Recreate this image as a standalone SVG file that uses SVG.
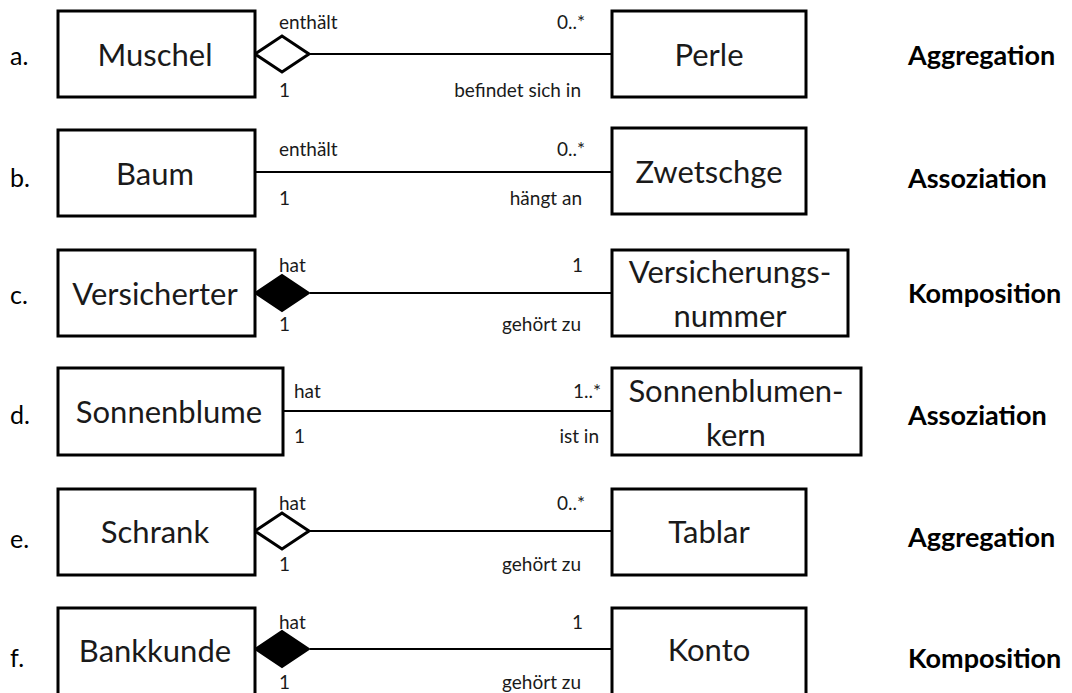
<svg xmlns="http://www.w3.org/2000/svg" width="1072" height="693" viewBox="0 0 1072 693">
<style>
.box{fill:#fff;stroke:#000;stroke-width:3}
.line{stroke:#000;stroke-width:2;fill:none}
.dia{stroke:#000;stroke-width:3;fill:#fff;stroke-linejoin:miter}
.diaf{stroke:#000;stroke-width:2;fill:#000}
.nt{font-family:Lato,"Liberation Sans",sans-serif;font-size:31px;fill:#1a1a1a;text-anchor:middle;dominant-baseline:central}
.sm{font-family:Lato,"Liberation Sans",sans-serif;font-size:19px;fill:#1a1a1a;dominant-baseline:central}
.end{text-anchor:end}
.kind{font-family:Lato,"Liberation Sans",sans-serif;font-size:27px;font-weight:bold;fill:#000;dominant-baseline:central}
.let{font-family:Lato,"Liberation Sans",sans-serif;font-size:25px;fill:#000;dominant-baseline:central}
</style>
<rect width="1072" height="693" fill="#fff"/>
<g id="connectors">
<line class="line" x1="310" y1="54" x2="612" y2="54"/>
<polygon class="dia" points="255,54 282,36 309,54 282,72"/>
<line class="line" x1="255" y1="172" x2="612" y2="172"/>
<line class="line" x1="310" y1="293" x2="612" y2="293"/>
<polygon class="diaf" points="255,293 282,275 309,293 282,311"/>
<line class="line" x1="283" y1="411" x2="612" y2="411"/>
<line class="line" x1="310" y1="531" x2="612" y2="531"/>
<polygon class="dia" points="255,531 282,513 309,531 282,549"/>
<line class="line" x1="310" y1="649" x2="612" y2="649"/>
<polygon class="diaf" points="255,649 282,631 309,649 282,667"/>
</g>
<g id="labels">
<text class="sm" x="279" y="21">enthält</text>
<text class="sm end" x="585" y="21">0..*</text>
<text class="sm" x="279" y="89">1</text>
<text class="sm end" x="581" y="89">befindet sich in</text>
<text class="sm" x="279" y="148">enthält</text>
<text class="sm end" x="585" y="148">0..*</text>
<text class="sm" x="279" y="197">1</text>
<text class="sm end" x="582" y="197">hängt an</text>
<text class="sm" x="279" y="264">hat</text>
<text class="sm end" x="583" y="264">1</text>
<text class="sm" x="279" y="323">1</text>
<text class="sm end" x="581" y="323">gehört zu</text>
<text class="sm" x="294" y="390">hat</text>
<text class="sm end" x="601" y="390">1..*</text>
<text class="sm" x="294" y="435">1</text>
<text class="sm end" x="599" y="435">ist in</text>
<text class="sm" x="279" y="502">hat</text>
<text class="sm end" x="585" y="502">0..*</text>
<text class="sm" x="279" y="563">1</text>
<text class="sm end" x="581" y="563">gehört zu</text>
<text class="sm" x="279" y="621">hat</text>
<text class="sm end" x="583" y="621">1</text>
<text class="sm" x="279" y="681">1</text>
<text class="sm end" x="581" y="681">gehört zu</text>
</g>
<g id="row-a">
<text class="let" x="10" y="55">a.</text>
<g id="muschel"><rect class="box" x="58" y="11" width="197" height="86"/><text class="nt" x="155" y="54">Muschel</text></g>
<g id="perle"><rect class="box" x="612" y="11" width="194" height="86"/><text class="nt" x="709" y="54">Perle</text></g>
<text class="kind" x="908" y="54">Aggregation</text>
</g>
<g id="row-b">
<text class="let" x="10" y="177">b.</text>
<g id="baum"><rect class="box" x="58" y="130" width="197" height="86"/><text class="nt" x="155" y="173">Baum</text></g>
<g id="zwetschge"><rect class="box" x="612" y="128" width="194" height="86"/><text class="nt" x="709" y="171">Zwetschge</text></g>
<text class="kind" x="908" y="177">Assoziation</text>
</g>
<g id="row-c">
<text class="let" x="10" y="294">c.</text>
<g id="versicherter"><rect class="box" x="58" y="250" width="197" height="86"/><text class="nt" x="155" y="293">Versicherter</text></g>
<g id="versicherungsnummer"><rect class="box" x="612" y="250" width="236" height="86"/><text class="nt" x="730" y="271">Versicherungs-</text><text class="nt" x="730" y="315">nummer</text></g>
<text class="kind" x="908" y="292">Komposition</text>
</g>
<g id="row-d">
<text class="let" x="10" y="414">d.</text>
<g id="sonnenblume"><rect class="box" x="58" y="368" width="225" height="87"/><text class="nt" x="169" y="411">Sonnenblume</text></g>
<g id="sonnenblumenkern"><rect class="box" x="612" y="368" width="249" height="87"/><text class="nt" x="736" y="390">Sonnenblumen-</text><text class="nt" x="736" y="434">kern</text></g>
<text class="kind" x="908" y="414">Assoziation</text>
</g>
<g id="row-e">
<text class="let" x="10" y="538">e.</text>
<g id="schrank"><rect class="box" x="58" y="489" width="197" height="86"/><text class="nt" x="155" y="531">Schrank</text></g>
<g id="tablar"><rect class="box" x="612" y="489" width="194" height="86"/><text class="nt" x="709" y="531">Tablar</text></g>
<text class="kind" x="908" y="536">Aggregation</text>
</g>
<g id="row-f">
<text class="let" x="10" y="657">f.</text>
<g id="bankkunde"><rect class="box" x="58" y="608" width="197" height="95"/><text class="nt" x="155" y="650">Bankkunde</text></g>
<g id="konto"><rect class="box" x="612" y="608" width="194" height="95"/><text class="nt" x="709" y="649">Konto</text></g>
<text class="kind" x="908" y="657">Komposition</text>
</g>
</svg>
